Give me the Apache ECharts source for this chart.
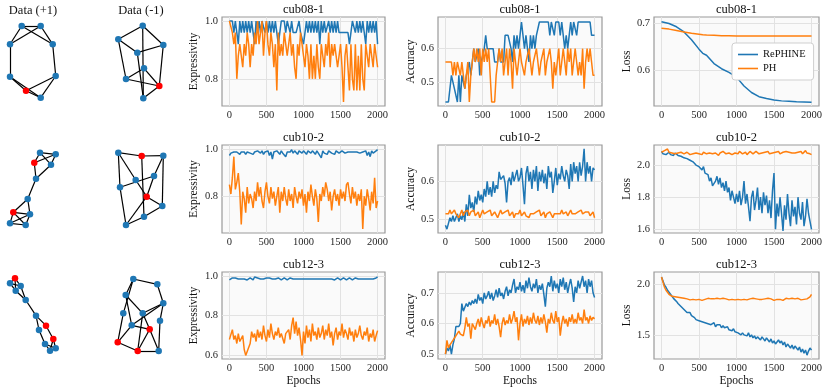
<!DOCTYPE html>
<html>
<head>
<meta charset="utf-8">
<script src="https://cdn.jsdelivr.net/npm/echarts@6.0.0/dist/echarts.min.js"></script>
<style>
html, body { margin: 0; padding: 0; background: #fff; }
#main { width: 830px; height: 392px; }
</style>
</head>
<body>
<div id="main"></div>
<script>
// ---- data ----
var epochs = [];
for (var e = 0; e <= 2000; e += 20) epochs.push(e);
var lossEpochs1 = [0,100,200,300,400,500,550,575,600,700,800,900,1000,1100,1200,1300,1400,1500,1600,1700,1800,1900,2000];
var xTicks = [0, 500, 1000, 1500, 2000];
var rowTitles = ['cub08-1', 'cub10-2', 'cub12-3'];
var yNames = ['Expressivity', 'Accuracy', 'Loss'];

// cub08-1
var r1ExpB = [1.0,1.0,1.0,0.96,1.0,0.96,0.92,1.0,0.96,1.0,
  0.96,1.0,0.96,1.0,0.96,1.0,0.96,0.92,1.0,0.96,
  1.0,0.96,1.0,1.0,0.96,1.0,0.96,1.0,0.96,1.0,
  0.96,1.0,0.96,0.92,0.96,1.0,1.0,1.0,0.96,1.0,
  1.0,0.96,1.0,0.96,0.96,0.96,0.96,1.0,0.96,0.96,
  0.92,0.96,1.0,0.96,1.0,0.96,1.0,0.96,1.0,0.96,
  1.0,0.92,1.0,0.96,1.0,0.96,0.96,1.0,0.96,1.0,
  0.96,1.0,0.96,1.0,0.96,0.96,0.96,0.96,0.96,0.96,
  0.96,0.92,0.96,1.0,1.0,0.96,1.0,0.96,1.0,0.96,
  1.0,0.96,0.92,1.0,0.96,1.0,0.96,1.0,0.96,1.0,0.92];
var r1ExpO = [1.0,1.0,0.96,0.92,0.96,0.8,0.88,0.92,0.88,0.84,
  0.92,0.88,0.96,0.92,0.84,0.92,0.88,0.96,0.92,1.0,
  0.92,0.96,1.0,0.88,0.96,1.0,0.92,0.88,0.96,0.92,
  0.84,0.92,0.76,0.96,0.88,0.92,0.88,0.96,0.92,0.88,
  0.92,0.96,0.88,0.92,0.84,0.8,0.92,0.88,0.96,0.92,
  0.88,0.84,0.92,0.88,0.8,0.92,0.8,0.88,0.8,0.92,
  0.84,0.8,0.92,0.88,0.84,0.92,0.88,0.96,0.84,0.92,
  0.88,0.92,0.88,0.84,0.88,0.92,0.84,0.72,0.88,0.92,
  0.84,0.76,0.92,0.8,0.76,0.92,0.76,0.88,0.76,0.92,
  0.8,0.76,0.92,0.88,0.84,0.92,0.88,0.84,0.92,0.88,0.84];
var r1AccB = [0.44,0.44,0.44,0.44,0.52,0.52,0.48,0.48,0.44,0.52,
  0.44,0.52,0.52,0.48,0.52,0.52,0.56,0.52,0.56,0.6,
  0.56,0.56,0.6,0.52,0.56,0.56,0.6,0.64,0.6,0.6,
  0.6,0.6,0.6,0.56,0.56,0.56,0.6,0.56,0.56,0.56,
  0.64,0.64,0.64,0.64,0.6,0.56,0.64,0.6,0.64,0.6,
  0.64,0.68,0.68,0.6,0.64,0.6,0.56,0.64,0.6,0.64,
  0.6,0.64,0.64,0.68,0.68,0.68,0.68,0.68,0.68,0.68,
  0.64,0.68,0.68,0.64,0.68,0.68,0.68,0.64,0.68,0.68,
  0.6,0.64,0.6,0.64,0.68,0.64,0.68,0.68,0.64,0.68,
  0.68,0.68,0.68,0.68,0.68,0.68,0.68,0.68,0.64,0.64,0.64];
var r1AccO = [0.56,0.56,0.56,0.56,0.56,0.52,0.56,0.52,0.56,0.56,
  0.52,0.56,0.52,0.48,0.52,0.56,0.44,0.52,0.56,0.6,
  0.56,0.6,0.56,0.6,0.52,0.6,0.56,0.6,0.56,0.6,
  0.6,0.44,0.44,0.44,0.52,0.56,0.6,0.56,0.6,0.52,
  0.56,0.6,0.52,0.6,0.56,0.48,0.6,0.56,0.52,0.56,
  0.6,0.56,0.56,0.52,0.56,0.56,0.6,0.56,0.52,0.56,
  0.56,0.6,0.56,0.52,0.56,0.56,0.6,0.52,0.56,0.56,
  0.6,0.56,0.48,0.56,0.52,0.56,0.6,0.52,0.56,0.6,
  0.56,0.52,0.6,0.56,0.6,0.52,0.56,0.6,0.56,0.52,
  0.56,0.52,0.6,0.48,0.56,0.6,0.56,0.6,0.56,0.52,0.52];
var r1LossB = [0.704,0.700,0.693,0.682,0.665,0.645,0.636,0.640,0.632,0.614,0.603,0.595,0.585,
  0.566,0.552,0.543,0.539,0.536,0.534,0.533,0.532,0.5315,0.531];
var r1LossO = [0.690,0.688,0.685,0.682,0.679,0.677,0.676,0.6758,0.6755,0.675,0.674,0.6735,0.673,
  0.673,0.673,0.673,0.673,0.673,0.673,0.673,0.673,0.673,0.673];

// cub10-2
var r2ExpB = [0.975,0.985,0.98,0.99,0.985,0.99,0.99,0.98,0.99,0.985,
  0.99,0.98,0.99,0.995,0.985,0.99,0.98,0.99,0.985,0.995,
  0.99,0.985,0.995,0.98,0.99,0.985,0.995,0.975,0.99,0.96,
  0.99,0.985,0.995,0.99,0.98,0.995,0.985,0.99,0.97,0.99,
  0.995,0.99,1.0,0.985,0.995,0.99,0.98,0.995,0.99,0.985,
  0.995,0.99,0.98,0.995,0.99,0.985,0.995,0.99,0.98,0.995,
  0.985,0.99,0.965,0.995,0.985,0.99,0.98,0.995,0.99,0.985,
  0.99,0.98,0.995,0.99,0.985,0.99,0.995,0.99,0.985,0.99,
  0.99,0.985,0.99,0.985,0.99,0.985,0.99,0.99,0.985,0.99,
  0.99,0.985,0.995,0.975,0.99,0.97,0.995,0.985,0.99,0.995,1.0];
var r2ExpO = [0.85,0.81,0.88,0.97,0.83,0.86,0.9,0.82,0.68,0.82,
  0.79,0.73,0.84,0.77,0.81,0.79,0.75,0.82,0.78,0.86,
  0.8,0.84,0.78,0.75,0.82,0.86,0.8,0.77,0.84,0.79,
  0.82,0.76,0.8,0.84,0.73,0.82,0.78,0.84,0.79,0.76,
  0.83,0.78,0.81,0.75,0.84,0.8,0.77,0.82,0.79,0.83,
  0.76,0.81,0.73,0.82,0.78,0.85,0.8,0.76,0.83,0.79,
  0.69,0.81,0.78,0.84,0.8,0.86,0.83,0.78,0.82,0.74,
  0.8,0.83,0.78,0.81,0.76,0.83,0.79,0.82,0.78,0.85,
  0.86,0.81,0.77,0.84,0.79,0.82,0.76,0.81,0.78,0.83,
  0.66,0.8,0.76,0.83,0.79,0.74,0.82,0.77,0.88,0.75,0.78];
var r2AccB = [0.485,0.475,0.49,0.505,0.495,0.51,0.495,0.5,0.515,0.495,
  0.51,0.5,0.52,0.495,0.54,0.51,0.565,0.53,0.545,0.52,
  0.56,0.54,0.575,0.55,0.565,0.545,0.58,0.56,0.6,0.565,
  0.585,0.56,0.6,0.57,0.59,0.58,0.625,0.605,0.6,0.615,
  0.595,0.545,0.6,0.61,0.59,0.625,0.6,0.615,0.63,0.6,
  0.61,0.635,0.59,0.54,0.62,0.64,0.6,0.625,0.58,0.63,
  0.6,0.64,0.575,0.625,0.6,0.63,0.595,0.62,0.58,0.64,
  0.61,0.625,0.57,0.6,0.635,0.59,0.62,0.605,0.64,0.615,
  0.6,0.63,0.615,0.58,0.645,0.6,0.65,0.62,0.64,0.6,
  0.65,0.615,0.64,0.685,0.6,0.65,0.62,0.64,0.6,0.635,0.63];
var r2AccO = [0.515,0.515,0.515,0.525,0.515,0.51,0.525,0.515,0.52,0.505,
  0.515,0.525,0.51,0.52,0.515,0.525,0.51,0.52,0.515,0.525,
  0.51,0.515,0.52,0.505,0.515,0.525,0.515,0.51,0.52,0.515,
  0.525,0.51,0.515,0.52,0.515,0.505,0.515,0.525,0.515,0.51,
  0.52,0.515,0.525,0.51,0.515,0.52,0.505,0.515,0.52,0.515,
  0.525,0.51,0.515,0.52,0.51,0.515,0.505,0.515,0.52,0.515,
  0.51,0.52,0.515,0.525,0.51,0.515,0.52,0.505,0.515,0.51,
  0.52,0.515,0.505,0.515,0.52,0.515,0.51,0.515,0.525,0.515,
  0.515,0.52,0.51,0.515,0.525,0.515,0.52,0.515,0.51,0.52,
  0.515,0.525,0.515,0.51,0.52,0.515,0.52,0.51,0.515,0.52,0.505];
var r2LossB = [2.085,2.07,2.08,2.065,2.075,2.08,2.065,2.07,2.06,2.075,
  2.065,2.06,2.07,2.055,2.06,2.045,2.05,2.04,2.045,2.03,
  2.04,2.02,2.03,2.0,2.01,1.99,1.98,1.97,1.99,1.95,
  1.96,1.94,1.9,1.92,1.87,1.88,1.9,1.93,1.88,1.92,
  1.86,1.89,1.84,1.9,1.83,1.86,1.78,1.84,1.8,1.76,
  1.82,1.77,1.84,1.75,1.8,1.9,1.76,1.82,1.74,1.65,
  1.8,1.84,1.72,1.78,1.86,1.72,1.8,1.7,1.83,1.75,
  1.81,1.7,1.78,1.67,1.84,1.95,1.6,1.76,1.68,1.8,
  1.7,1.59,1.75,1.66,1.82,1.7,1.62,1.78,1.68,1.74,
  1.63,1.8,1.7,1.66,1.77,1.62,1.68,1.79,1.7,1.65,1.6];
var r2LossO = [2.08,2.075,2.09,2.085,2.1,2.08,2.09,2.075,2.085,2.07,
  2.08,2.075,2.07,2.08,2.085,2.07,2.075,2.08,2.07,2.065,
  2.075,2.07,2.06,2.075,2.08,2.07,2.075,2.065,2.08,2.075,
  2.07,2.08,2.075,2.085,2.07,2.08,2.075,2.07,2.06,2.075,
  2.08,2.085,2.075,2.07,2.08,2.075,2.085,2.065,2.055,2.075,
  2.08,2.07,2.085,2.09,2.07,2.075,2.08,2.065,2.075,2.085,
  2.075,2.07,2.08,2.085,2.075,2.07,2.08,2.075,2.065,2.08,
  2.075,2.085,2.07,2.08,2.075,2.065,2.08,2.075,2.085,2.07,
  2.075,2.08,2.07,2.085,2.075,2.08,2.07,2.075,2.08,2.075,
  2.07,2.08,2.075,2.085,2.07,2.08,2.09,2.075,2.08,2.07,2.065];

// cub12-3
var r3ExpB = [0.98,0.985,0.99,0.985,0.99,0.98,0.985,0.99,0.985,0.98,
  0.985,0.99,0.98,0.985,0.99,0.985,0.98,0.995,0.985,0.99,
  0.98,0.985,0.99,0.985,0.98,0.99,0.985,0.99,0.98,0.985,
  0.99,0.985,0.98,0.99,0.985,0.98,0.985,0.99,0.985,0.98,
  0.985,0.99,0.98,0.985,0.99,0.985,0.98,0.985,0.99,0.985,
  0.98,0.985,0.99,0.985,0.98,0.985,0.99,0.985,0.98,0.985,
  0.99,0.985,0.98,0.985,0.99,0.985,0.98,0.985,0.99,0.985,
  0.975,0.98,0.985,0.99,0.985,0.98,0.985,0.99,0.985,0.98,
  0.985,0.99,0.985,0.98,0.985,0.99,0.98,0.985,0.99,0.985,
  0.98,0.985,0.99,0.985,0.98,0.985,0.99,0.985,0.99,0.99,0.995];
var r3ExpO = [0.68,0.69,0.73,0.68,0.7,0.66,0.71,0.67,0.66,0.7,
  0.63,0.6,0.62,0.61,0.66,0.72,0.69,0.71,0.67,0.73,
  0.69,0.72,0.68,0.75,0.7,0.67,0.73,0.69,0.76,0.71,
  0.68,0.72,0.7,0.74,0.69,0.71,0.71,0.66,0.71,0.7,
  0.73,0.68,0.75,0.79,0.71,0.77,0.7,0.74,0.68,0.6,
  0.72,0.66,0.75,0.69,0.73,0.67,0.76,0.7,0.72,0.68,
  0.74,0.69,0.71,0.75,0.68,0.73,0.7,0.76,0.69,0.72,
  0.65,0.71,0.74,0.68,0.72,0.7,0.76,0.69,0.73,0.71,
  0.68,0.74,0.7,0.72,0.67,0.73,0.69,0.71,0.75,0.7,
  0.68,0.72,0.7,0.74,0.67,0.71,0.69,0.73,0.67,0.7,0.725];
var r3AccB = [0.5,0.52,0.51,0.53,0.5,0.53,0.55,0.59,0.585,0.59,
  0.6,0.665,0.64,0.635,0.665,0.655,0.67,0.66,0.675,0.665,
  0.68,0.665,0.695,0.675,0.685,0.665,0.7,0.68,0.69,0.705,
  0.68,0.7,0.675,0.69,0.71,0.685,0.715,0.69,0.7,0.68,
  0.705,0.72,0.69,0.71,0.7,0.725,0.745,0.7,0.72,0.71,
  0.735,0.705,0.725,0.7,0.74,0.715,0.75,0.72,0.705,0.73,
  0.715,0.745,0.7,0.725,0.71,0.73,0.695,0.655,0.715,0.735,
  0.72,0.755,0.705,0.74,0.715,0.73,0.7,0.745,0.72,0.75,
  0.71,0.735,0.7,0.725,0.745,0.715,0.67,0.72,0.7,0.74,
  0.715,0.735,0.755,0.72,0.74,0.7,0.745,0.72,0.74,0.7,0.685];
var r3AccO = [0.5,0.545,0.52,0.53,0.525,0.545,0.55,0.56,0.555,0.575,
  0.565,0.57,0.56,0.585,0.62,0.59,0.6,0.55,0.6,0.605,
  0.58,0.6,0.615,0.59,0.62,0.6,0.585,0.61,0.6,0.625,
  0.59,0.61,0.6,0.63,0.595,0.615,0.59,0.555,0.6,0.62,
  0.595,0.61,0.6,0.63,0.6,0.615,0.64,0.605,0.62,0.545,
  0.6,0.63,0.59,0.615,0.6,0.625,0.595,0.62,0.6,0.635,
  0.61,0.6,0.625,0.595,0.62,0.6,0.63,0.605,0.57,0.615,
  0.6,0.635,0.61,0.6,0.64,0.605,0.62,0.56,0.6,0.625,
  0.6,0.615,0.59,0.62,0.605,0.63,0.6,0.615,0.6,0.635,
  0.61,0.62,0.6,0.645,0.61,0.62,0.6,0.625,0.61,0.62,0.615];
var r3LossB = [2.07,2.03,1.99,1.97,1.94,1.93,1.9,1.89,1.86,1.85,
  1.83,1.81,1.8,1.78,1.77,1.75,1.74,1.72,1.71,1.72,
  1.69,1.68,1.67,1.65,1.66,1.64,1.65,1.63,1.64,1.62,
  1.63,1.61,1.62,1.6,1.61,1.62,1.58,1.6,1.59,1.6,
  1.57,1.59,1.57,1.56,1.58,1.55,1.56,1.54,1.56,1.53,
  1.54,1.52,1.53,1.5,1.52,1.5,1.51,1.49,1.52,1.48,
  1.5,1.47,1.49,1.46,1.48,1.47,1.45,1.48,1.46,1.44,
  1.47,1.45,1.43,1.46,1.42,1.44,1.41,1.43,1.45,1.42,
  1.44,1.4,1.43,1.38,1.41,1.39,1.37,1.4,1.36,1.39,
  1.37,1.35,1.38,1.33,1.36,1.32,1.35,1.3,1.34,1.37,1.35];
var r3LossO = [2.07,2.02,1.97,1.94,1.92,1.9,1.89,1.88,1.87,1.875,
  1.86,1.87,1.855,1.865,1.85,1.86,1.845,1.855,1.86,1.845,
  1.855,1.85,1.86,1.845,1.855,1.85,1.86,1.84,1.855,1.85,
  1.845,1.86,1.85,1.855,1.84,1.855,1.85,1.86,1.845,1.855,
  1.85,1.86,1.845,1.855,1.85,1.845,1.86,1.85,1.855,1.845,
  1.855,1.85,1.86,1.845,1.855,1.85,1.86,1.845,1.85,1.855,
  1.845,1.86,1.85,1.855,1.845,1.85,1.86,1.85,1.845,1.855,
  1.85,1.86,1.845,1.855,1.85,1.84,1.855,1.85,1.86,1.85,
  1.855,1.84,1.85,1.86,1.845,1.855,1.85,1.86,1.845,1.855,
  1.85,1.86,1.855,1.845,1.86,1.85,1.865,1.855,1.87,1.875,1.9];

// example graphs (node layout positions, red node indices, edge lists)
var g1Nodes = [[21.7,10],[40.7,10],[10,28.3],[52.7,28.3],[10,60.7],[55.7,60],[26,74.7],[40.7,81.7]];
var g1Red = [6];
var g1Edges = [[0,1],[0,2],[0,3],[1,2],[1,3],[2,4],[3,5],[4,6],[4,7],[6,5],[5,7],[6,7]];
var g2Nodes = [[42.7,9.7],[18.3,23.3],[63.3,29],[37.3,36.7],[44,52.3],[26,63],[59.3,70],[43.3,82.3]];
var g2Red = [6];
var g2Edges = [[0,1],[0,2],[0,7],[1,3],[1,5],[3,2],[3,7],[2,6],[4,5],[5,6],[4,6],[6,7]];
var g3Nodes = [[40,8.7],[55.7,10.3],[34.3,18.7],[51,20.7],[36,34.7],[27.7,55],[13.3,68.3],[30,70.3],[10,79.3],[25.7,81]];
var g3Red = [2, 6];
var g3Edges = [[0,1],[0,2],[0,3],[1,2],[1,3],[2,4],[3,4],[4,5],[5,6],[5,7],[6,8],[6,9],[7,8],[7,9],[8,9],[6,7]];
var g4Nodes = [[18.3,8.7],[41.7,12],[63.3,11.7],[54,32],[35.7,36],[20,43.3],[46.7,52.7],[62.3,62],[44,72.7],[26,81]];
var g4Red = [1, 6];
var g4Edges = [[0,1],[1,2],[0,4],[0,5],[5,9],[1,8],[2,3],[2,7],[5,3],[4,6],[3,6],[6,7],[6,9],[8,9],[7,8]];
var g5Nodes = [[15,6.3],[10,11.3],[20.7,14],[15.7,18.7],[25.7,28],[36,43.7],[46,53.7],[39,58],[53.3,67],[45,72],[50,78.7],[55.7,76.3]];
var g5Red = [0, 6, 8];
var g5Edges = [[0,1],[0,2],[0,3],[1,3],[1,2],[2,4],[3,4],[4,5],[5,6],[5,7],[6,8],[7,9],[8,10],[8,11],[9,10],[9,11],[10,11]];
var g6Nodes = [[33.3,7],[57.3,12.3],[25.7,23],[63.3,31.3],[23.3,41.3],[42.7,41.3],[60,48.7],[31.7,53.3],[49.7,57.3],[17.7,70.3],[37.7,79],[58.7,79]];
var g6Red = [8, 9, 10];
var g6Edges = [[0,1],[0,2],[0,4],[1,3],[2,5],[2,7],[3,5],[3,6],[3,7],[4,9],[5,8],[5,10],[7,8],[7,9],[6,11],[8,11],[9,10],[10,11],[8,10]];

// ---- chart ----
var FONT = 'Liberation Serif, DejaVu Serif, serif';
var BLUE = '#1f77b4', ORANGE = '#ff7f0e', RED = '#ff0000';
var colLeft = [222, 438, 654];
var colWidth = [163, 164, 165];
var rowTop = [17, 145, 272];
var rowHeight = [89, 88, 87];
var nameGaps = [22, 19, 20];
var yRange = [
  [[0.706, 1.014], [0.428, 0.695], [0.523, 0.714]],
  [[0.643, 1.02], [0.465, 0.695], [1.577, 2.125]],
  [[0.582, 1.02], [0.484, 0.768], [1.262, 2.12]]
];
var yTicks = [
  [[0.8, 1.0], [0.5, 0.6], [0.6, 0.7]],
  [[0.8, 1.0], [0.5, 0.6], [1.6, 1.8, 2.0]],
  [[0.6, 0.8, 1.0], [0.5, 0.6, 0.7], [1.5, 2.0]]
];
var panels = [
  [[epochs, r1ExpB, r1ExpO], [epochs, r1AccB, r1AccO], [lossEpochs1, r1LossB, r1LossO]],
  [[epochs, r2ExpB, r2ExpO], [epochs, r2AccB, r2AccO], [epochs, r2LossB, r2LossO]],
  [[epochs, r3ExpB, r3ExpO], [epochs, r3AccB, r3AccO], [epochs, r3LossB, r3LossO]]
];
var graphs = [
  [g1Nodes, g1Red, g1Edges], [g2Nodes, g2Red, g2Edges],
  [g3Nodes, g3Red, g3Edges], [g4Nodes, g4Red, g4Edges],
  [g5Nodes, g5Red, g5Edges], [g6Nodes, g6Red, g6Edges]
];

function pairs(xs, ys) {
  return ys.map(function (y, i) { return [xs[i], y]; });
}

var grid = [], xAxis = [], yAxis = [], series = [], title = [];
var gridStyle = { show: true, borderColor: '#9a9a9a', borderWidth: 1.2, backgroundColor: '#fafafa' };
var splitStyle = { show: true, lineStyle: { color: '#e2e2e2', width: 1 } };
var labelStyle = { fontFamily: FONT, fontSize: 10.5, color: '#262626' };
var titleStyle = { fontFamily: FONT, fontSize: 12.5, fontWeight: 'normal', color: '#111' };

title.push({ text: 'Data (+1)', left: 33, top: 4, padding: 0, textAlign: 'center', textStyle: titleStyle });
title.push({ text: 'Data (-1)', left: 141, top: 4, padding: 0, textAlign: 'center', textStyle: titleStyle });

for (var r = 0; r < 3; r++) {
  for (var c = 0; c < 3; c++) {
    var idx = grid.length;
    grid.push(Object.assign({ left: colLeft[c], top: rowTop[r], width: colWidth[c], height: rowHeight[r] }, gridStyle));
    title.push({ text: rowTitles[r], left: colLeft[c] + colWidth[c] / 2, top: rowTop[r] - 14, padding: 0,
      textAlign: 'center', textStyle: titleStyle });
    xAxis.push({ type: 'value', gridIndex: idx, min: -100, max: 2100,
      axisLine: { show: false }, axisTick: { show: false, customValues: xTicks },
      axisLabel: Object.assign({ customValues: xTicks, margin: 4,
        formatter: function (v) { return String(v); } }, labelStyle),
      splitLine: splitStyle,
      name: r === 2 ? 'Epochs' : '', nameLocation: 'middle', nameGap: 14,
      nameTextStyle: { fontFamily: FONT, fontSize: 11.5, color: '#111' } });
    yAxis.push({ type: 'value', gridIndex: idx, min: yRange[r][c][0], max: yRange[r][c][1],
      axisLine: { show: false }, axisTick: { show: false, customValues: yTicks[r][c] },
      axisLabel: Object.assign({ customValues: yTicks[r][c], margin: 4,
        formatter: function (v) { return v.toFixed(1); } }, labelStyle),
      splitLine: splitStyle,
      name: yNames[c], nameLocation: 'middle', nameGap: nameGaps[c],
      nameTextStyle: { fontFamily: FONT, fontSize: 11.5, color: '#111' } });
    var p = panels[r][c];
    series.push({ type: 'line', name: 'RePHINE', xAxisIndex: idx, yAxisIndex: idx, data: pairs(p[0], p[1]),
      symbol: 'none', lineStyle: { color: BLUE, width: 1.5 }, itemStyle: { color: BLUE }, silent: true });
    series.push({ type: 'line', name: 'PH', xAxisIndex: idx, yAxisIndex: idx, data: pairs(p[0], p[2]),
      symbol: 'none', lineStyle: { color: ORANGE, width: 1.5 }, itemStyle: { color: ORANGE }, silent: true });
  }
}

// graph panels: two columns (+1 / -1) per row
var gLeft = [0, 100], gTop = [16, 144, 272];
graphs.forEach(function (g, k) {
  var r = Math.floor(k / 2), c = k % 2;
  var idx = grid.length;
  grid.push({ left: gLeft[c], top: gTop[r], width: 70, height: 90, show: false });
  xAxis.push({ type: 'value', gridIndex: idx, min: 0, max: 70, show: false });
  yAxis.push({ type: 'value', gridIndex: idx, min: 0, max: 90, inverse: true, show: false });
  series.push({
    type: 'graph', coordinateSystem: 'cartesian2d', xAxisIndex: idx, yAxisIndex: idx,
    symbolSize: 6.5, silent: true,
    data: g[0].map(function (pt, i) {
      return { value: pt, itemStyle: { color: g[1].indexOf(i) >= 0 ? RED : BLUE } };
    }),
    links: g[2].map(function (l) { return { source: l[0], target: l[1] }; }),
    lineStyle: { color: '#000', width: 1.2, opacity: 1, curveness: 0 },
    label: { show: false }
  });
});

var chart = echarts.init(document.getElementById('main'));
chart.setOption({
  animation: false,
  title: title,
  legend: {
    data: ['RePHINE', 'PH'], orient: 'vertical', left: 732, top: 43,
    backgroundColor: '#fff', borderColor: '#cfcfcf', borderWidth: 1, borderRadius: 3,
    padding: [6, 8, 6, 6], itemGap: 3, itemWidth: 20, itemHeight: 1.6, icon: 'rect',
    textStyle: { fontFamily: FONT, fontSize: 10.5, color: '#111' }
  },
  grid: grid,
  xAxis: xAxis,
  yAxis: yAxis,
  series: series
});
</script>
</body>
</html>
